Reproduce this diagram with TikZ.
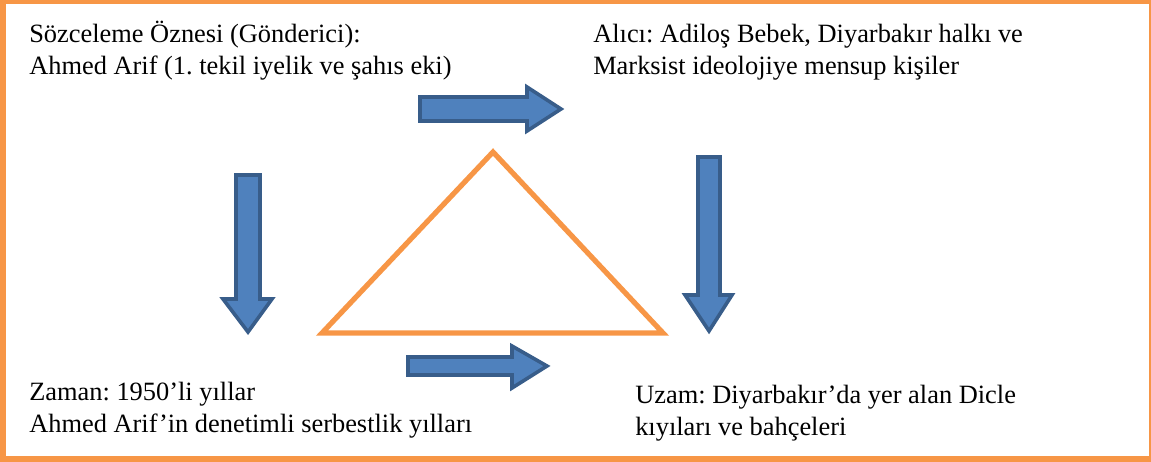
\documentclass[tikz,border=0pt]{standalone}
\usepackage{fontspec}
\setmainfont{Liberation Serif}
\frenchspacing
\definecolor{frameorange}{HTML}{F79646}
\definecolor{arrowfill}{HTML}{4F81BD}
\definecolor{arrowline}{HTML}{385D8A}
\begin{document}
\begin{tikzpicture}[x=0.75pt,y=-0.75pt,
  label/.style={anchor=north west,inner sep=0pt,align=left,
    font=\fontsize{19.8pt}{24.5pt}\selectfont\frenchspacing},
  blockarrow/.style={fill=arrowfill,draw=arrowline,line width=2.7pt,line join=miter},
  frameline/.style={draw=frameorange,line width=4.5pt}]
\useasboundingbox (0,0) rectangle (1151,461);
\clip (0,0) rectangle (1151,461);
% outer frame
\draw[frameline] (3,0.5) rectangle (1152,458.5);
% triangle
\draw[draw=frameorange,line width=3.9pt,line join=miter] (493,152) -- (663,333) -- (322,333) -- cycle;
% arrows
\draw[blockarrow] (420,97) -- (527,97) -- (527,87) -- (561,109) -- (527,131) -- (527,121) -- (420,121) -- cycle;
\draw[blockarrow] (236,175) -- (260,175) -- (260,299) -- (272,299) -- (248,332) -- (223,299) -- (236,299) -- cycle;
\draw[blockarrow] (698,157) -- (720,157) -- (720,295) -- (732,295) -- (709,331) -- (685,295) -- (698,295) -- cycle;
\draw[blockarrow] (408,357) -- (512,357) -- (512,346) -- (547,366) -- (512,388) -- (512,375) -- (408,375) -- cycle;
% texts
\node[label] (gonderici) at (29,19) {\strut Sözceleme Öznesi (Gönderici):\\Ahmed Arif (1. tekil iyelik ve şahıs eki)};
\node[label] (alici) at (593,19) {\strut Alıcı: Adiloş Bebek, Diyarbakır halkı ve\\Marksist ideolojiye mensup kişiler};
\node[label] (zaman) at (29,377) {\strut Zaman: 1950’li yıllar\\Ahmed Arif’in denetimli serbestlik yılları};
\node[label] (uzam) at (635,380) {\strut Uzam: Diyarbakır’da yer alan Dicle\\kıyıları ve bahçeleri};
\end{tikzpicture}
\end{document}
